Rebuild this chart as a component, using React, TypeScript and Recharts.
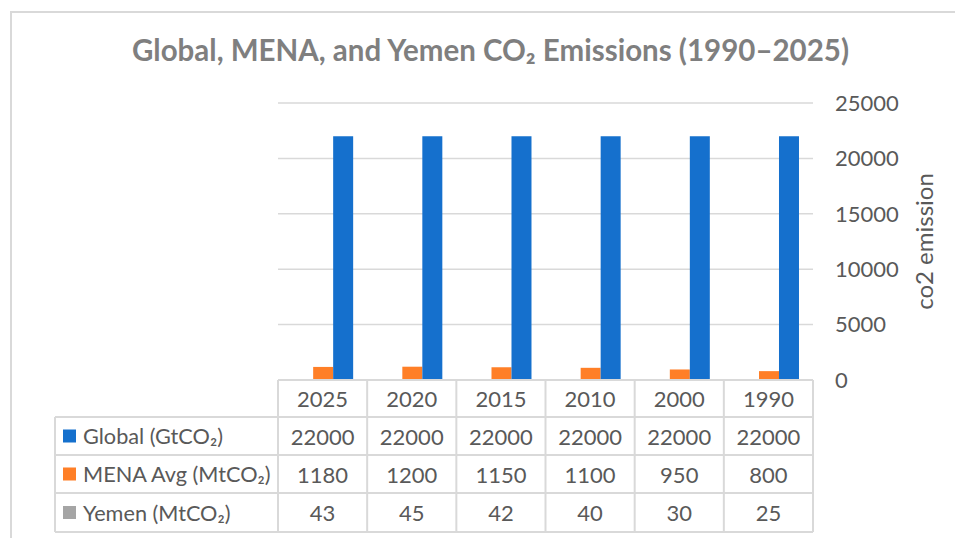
import React from "react";
import { Bar, BarChart, CartesianGrid, YAxis, XAxis } from "recharts";

const YEARS = ["2025", "2020", "2015", "2010", "2000", "1990"];
const GLOBAL = [22000, 22000, 22000, 22000, 22000, 22000];
const MENA = [1180, 1200, 1150, 1100, 950, 800];
const YEMEN = [43, 45, 42, 40, 30, 25];
const Y_TICKS = [0, 5000, 10000, 15000, 20000, 25000];

const SERIES = [
  { key: "global", name: "Global (GtCO\u2082)", color: "#1570CD", values: GLOBAL },
  { key: "mena", name: "MENA Avg (MtCO\u2082)", color: "#FF7F27", values: MENA },
  { key: "yemen", name: "Yemen (MtCO\u2082)", color: "#A5A5A5", values: YEMEN },
];

const rows = YEARS.map((year, i) => ({
  year,
  global: GLOBAL[i],
  mena: MENA[i],
  yemen: YEMEN[i],
}));

const FONT = "Lato, 'Open Sans', sans-serif";
const W = 955;
const H = 538;
const PLOT_L = 278;
const PLOT_R = 813;
const PLOT_T = 103;
const PLOT_B = 380;
const TABLE_L = 55;
const ROW_Y = [380, 417, 455, 493, 532];
const LINE = "#d9d9d9";
const TEXT = "#595959";

function DataTable() {
  const colW = (PLOT_R - PLOT_L) / YEARS.length;
  return (
    <svg
      width={W}
      height={H}
      style={{ position: "absolute", left: 0, top: 0, pointerEvents: "none" }}
    >
      {/* horizontal lines */}
      <line x1={PLOT_L} x2={PLOT_R} y1={ROW_Y[0]} y2={ROW_Y[0]} stroke={LINE} strokeWidth={2} />
      {ROW_Y.slice(1).map((y) => (
        <line key={y} x1={TABLE_L} x2={PLOT_R} y1={y} y2={y} stroke={LINE} strokeWidth={2} />
      ))}
      {/* vertical lines */}
      <line x1={TABLE_L} x2={TABLE_L} y1={ROW_Y[1]} y2={ROW_Y[4]} stroke={LINE} strokeWidth={2} />
      {YEARS.map((_, i) => (
        <line
          key={i}
          x1={PLOT_L + i * colW}
          x2={PLOT_L + i * colW}
          y1={ROW_Y[0]}
          y2={ROW_Y[4]}
          stroke={LINE}
          strokeWidth={2}
        />
      ))}
      <line x1={PLOT_R} x2={PLOT_R} y1={ROW_Y[0]} y2={ROW_Y[4]} stroke={LINE} strokeWidth={2} />
      {/* header */}
      {YEARS.map((y, i) => (
        <text
          key={y}
          x={PLOT_L + (i + 0.5) * colW}
          y={(ROW_Y[0] + ROW_Y[1]) / 2}
          textAnchor="middle"
          dominantBaseline="central"
          fontSize={22}
          fill={TEXT}
          fontFamily={FONT}
        >
          {y}
        </text>
      ))}
      {SERIES.map((s, r) => {
        const cy = (ROW_Y[r + 1] + ROW_Y[r + 2]) / 2;
        return (
          <g key={s.key}>
            <rect x={63} y={cy - 6.5} width={13} height={13} fill={s.color} />
            <text
              x={83}
              y={cy}
              dominantBaseline="central"
              fontSize={21.7}
              fill={TEXT}
              fontFamily={FONT}
            >
              {s.name}
            </text>
            {s.values.map((v, i) => (
              <text
                key={i}
                x={PLOT_L + (i + 0.5) * colW}
                y={cy}
                textAnchor="middle"
                dominantBaseline="central"
                fontSize={22}
                fill={TEXT}
                fontFamily={FONT}
              >
                {v}
              </text>
            ))}
          </g>
        );
      })}
      {/* axis title */}
      <text
        x={923}
        y={(PLOT_T + PLOT_B) / 2}
        transform={`rotate(-90 923 ${(PLOT_T + PLOT_B) / 2})`}
        textAnchor="middle"
        dominantBaseline="central"
        fontSize={24}
        fill={TEXT}
        fontFamily={FONT}
      >
        co2 emission
      </text>
    </svg>
  );
}

export default function App() {
  return (
    <div
      style={{
        position: "absolute",
        left: 0,
        top: 0,
        width: W,
        height: H,
        background: "#fff",
        overflow: "hidden",
        fontFamily: FONT,
      }}
    >
      <div
        style={{
          position: "absolute",
          left: 10,
          top: 11,
          width: W,
          height: H,
          border: "2px solid #d9d9d9",
          boxSizing: "border-box",
        }}
      />
      <div
        style={{
          position: "absolute",
          left: 0,
          top: 32,
          width: 981,
          textAlign: "center",
          fontSize: 29.5,
          fontWeight: 700,
          color: "#7f7f7f",
          whiteSpace: "nowrap",
        }}
      >
        Global, MENA, and Yemen CO₂ Emissions (1990–2025)
      </div>
      <div style={{ position: "absolute", left: 0, top: 0 }}>
        <BarChart
          width={W}
          height={H}
          data={rows}
          margin={{ top: PLOT_T, left: PLOT_L, right: 0, bottom: H - PLOT_B }}
          barCategoryGap="17%"
          barGap={0}
        >
          <CartesianGrid vertical={false} stroke={LINE} strokeWidth={1.5} />
          <XAxis dataKey="year" hide />
          <YAxis
            orientation="right"
            width={W - PLOT_R}
            domain={[0, 25000]}
            ticks={Y_TICKS}
            axisLine={false}
            tickLine={false}
            tickMargin={16}
            tick={{ fill: TEXT, fontSize: 22, fontFamily: FONT }}
          />
          <Bar dataKey="yemen" fill="#A5A5A5" isAnimationActive={false} />
          <Bar dataKey="mena" fill="#FF7F27" isAnimationActive={false} />
          <Bar dataKey="global" fill="#1570CD" isAnimationActive={false} />
        </BarChart>
      </div>
      <DataTable />
    </div>
  );
}
